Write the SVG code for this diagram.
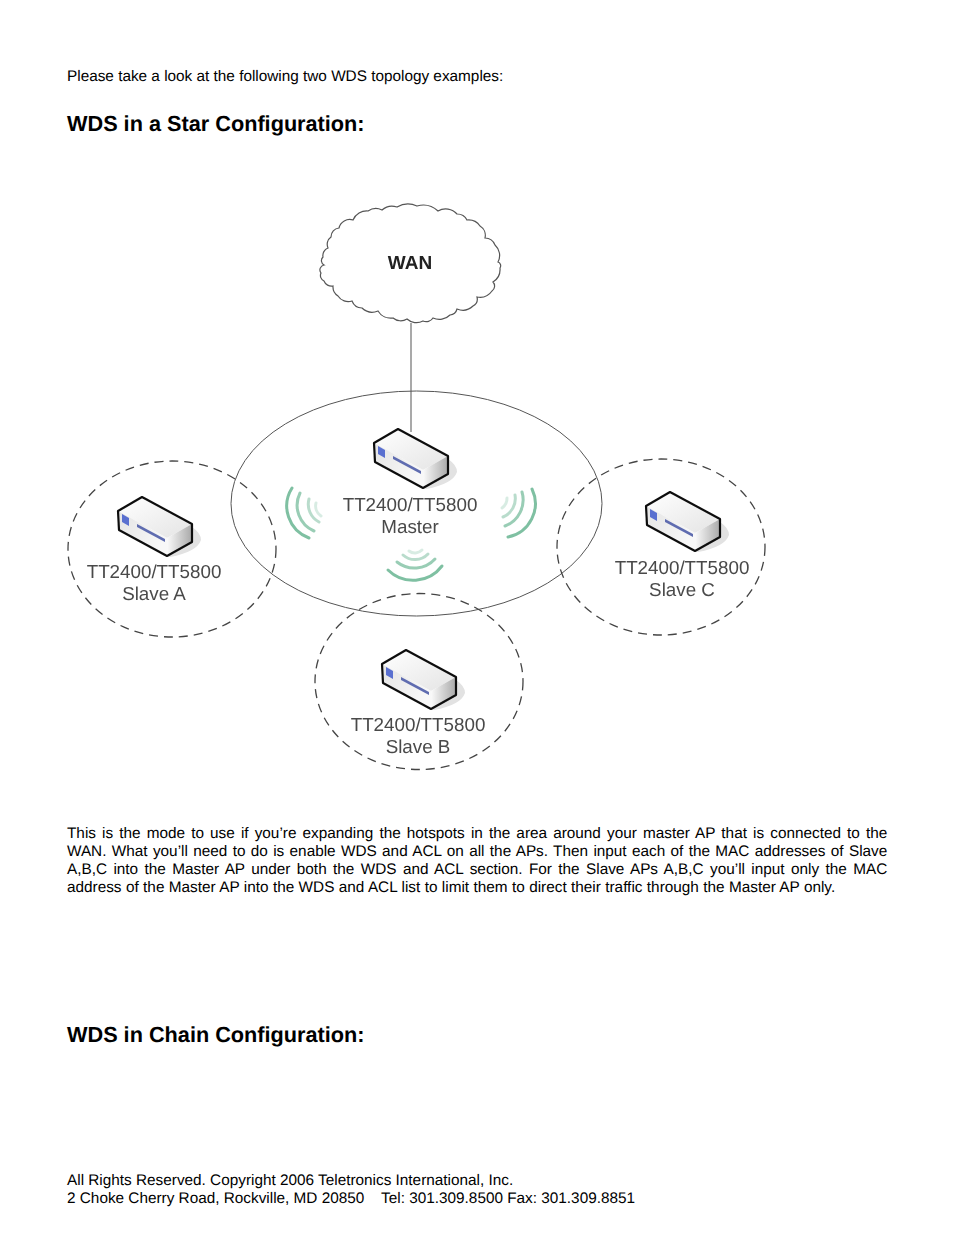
<svg xmlns="http://www.w3.org/2000/svg" width="954" height="1235" viewBox="0 0 954 1235">
<style>
text{text-rendering:geometricPrecision}
.b{font:15.33px "Liberation Sans",Arial,sans-serif;fill:#000}
.h{font:bold 21.7px "Liberation Sans",Arial,sans-serif;fill:#000}
.l{font:18.8px "Liberation Sans",Arial,sans-serif;fill:#4a4a4a;text-anchor:middle}
.o{fill:none;stroke:#555;stroke-width:1}
.d{fill:none;stroke:#444;stroke-width:1.3;stroke-dasharray:9 6}
.w{fill:none;stroke:#7fc0a2;stroke-width:3;stroke-linecap:round}
</style>
<defs>
<linearGradient id="top" x1="0" y1="0" x2="1" y2="1"><stop offset="0" stop-color="#fff"/><stop offset="1" stop-color="#e4e4e4"/></linearGradient>
<linearGradient id="front" x1="0" y1="0" x2="1" y2="0.6"><stop offset="0" stop-color="#e4e4e4"/><stop offset="1" stop-color="#f8f8f8"/></linearGradient>
<linearGradient id="side" x1="0" y1="0" x2="1" y2="0"><stop offset="0" stop-color="#fafafa"/><stop offset="1" stop-color="#a8a8a8"/></linearGradient>
<filter id="s" x="-5%" y="-5%" width="110%" height="110%"><feGaussianBlur stdDeviation="0.5"/></filter>
<g id="dev">
<path d="M49 59 L74 45 L74 30 Q83 36 83 43 Q79 55 52 60Z" fill="#e2e2e2"/>
<path d="M0 14 L24 0 L74 27 L49 41Z" fill="url(#top)"/>
<path d="M0 14 L49 41 L49 59 L1 33Z" fill="url(#front)"/>
<path d="M49 41 L74 27 L74 45 L49 59Z" fill="url(#side)"/>
<path d="M0 14 L24 0 L74 27 L74 45 L49 59 L1 33Z" fill="none" stroke="#111" stroke-width="2.200" stroke-linejoin="round"/>
<path d="M4 17 L11 21 L11 29 L4 25Z" fill="#5a6fd0"/>
<path d="M19 27 L47 42 L47 45 L19 30Z" fill="#5f6cb0"/>
</g>
</defs>
<text class="b" x="67" y="81">Please take a look at the following two WDS topology examples:</text>
<text class="h" x="67" y="131">WDS in a Star Configuration:</text>
<g filter="url(#s)">
<g id="connectors"><path class="o" d="M411 323V432"/></g>
<g id="wan">
<path fill="#fff" stroke="#555" stroke-width="1.2" d="M353 220A15 15 0 0 1 368 211A14 14 0 0 1 382 210A15 15 0 0 1 397 207A22 22 0 0 1 417 206A22 22 0 0 1 438 211A15 15 0 0 1 457 214A11 11 0 0 1 467 220A14 14 0 0 1 480 226A11 11 0 0 1 485 238A11 11 0 0 1 495 245A14 14 0 0 1 498 262A4 4 0 0 1 500 268A15 15 0 0 1 493 282A6 6 0 0 1 492 291A15 15 0 0 1 477 297A8 8 0 0 1 473 306A15 15 0 0 1 457 309A8 8 0 0 1 450 315A15 15 0 0 1 433 318A8 8 0 0 1 423 321A14 14 0 0 1 407 319A12 12 0 0 1 393 318A15 15 0 0 1 378 311A15 15 0 0 1 362 308A11 11 0 0 1 352 301A12 12 0 0 1 338 296A11 11 0 0 1 333 286A8 8 0 0 1 324 281A6 6 0 0 1 321 273A5 5 0 0 1 324 265A5 5 0 0 1 323 257A8 8 0 0 1 328 248A9 9 0 0 1 331 237A9 9 0 0 1 339 228A11 11 0 0 1 353 220Z"/>
<text x="410" y="268.500" style="font:bold 19px 'Liberation Sans',Arial,sans-serif;fill:#222;text-anchor:middle">WAN</text>
</g>
<g id="master">
<ellipse class="o" cx="416.500" cy="503.500" rx="185.500" ry="112.500"/>
<path class="w" d="M292 488A34 34 0 0 0 309 538"/>
<path class="w" d="M300 493A28 28 0 0 0 314 531" opacity=".8"/>
<path class="w" d="M309 499A20 20 0 0 0 319 522" opacity=".55"/>
<path class="w" d="M316 503A12 12 0 0 0 321 516" opacity=".3"/>
<path class="w" d="M532 489A34 34 0 0 1 508 537"/>
<path class="w" d="M522 492A28 28 0 0 1 505 526" opacity=".8"/>
<path class="w" d="M515 495A20 20 0 0 1 503 517" opacity=".55"/>
<path class="w" d="M507 498A12 12 0 0 1 502 508" opacity=".3"/>
<path class="w" d="M388 570A36 36 0 0 0 442 566"/>
<path class="w" d="M397 562A28 28 0 0 0 435 559" opacity=".8"/>
<path class="w" d="M403 555A18 18 0 0 0 428 554" opacity=".55"/>
<path class="w" d="M409 551A10 10 0 0 0 422 550" opacity=".3"/>
<use href="#dev" x="374" y="429"/>
<text class="l" x="410" y="511">TT2400/TT5800</text>
<text class="l" x="410" y="533">Master</text>
</g>
<g id="slave-a">
<ellipse class="d" cx="172" cy="549" rx="104" ry="88"/>
<use href="#dev" x="118" y="497"/>
<text class="l" x="154" y="578">TT2400/TT5800</text>
<text class="l" x="154" y="600">Slave A</text>
</g>
<g id="slave-c">
<ellipse class="d" cx="661" cy="547" rx="104" ry="88"/>
<use href="#dev" x="646" y="492"/>
<text class="l" x="682" y="574">TT2400/TT5800</text>
<text class="l" x="682" y="596">Slave C</text>
</g>
<g id="slave-b">
<ellipse class="d" cx="419" cy="681.500" rx="104" ry="88"/>
<use href="#dev" x="382" y="650"/>
<text class="l" x="418" y="731">TT2400/TT5800</text>
<text class="l" x="418" y="753">Slave B</text>
</g>
</g>
<text class="b" x="67" y="838" style="word-spacing:1.86px">This is the mode to use if you’re expanding the hotspots in the area around your master AP that is connected to the</text>
<text class="b" x="67" y="856" style="word-spacing:1.09px">WAN. What you’ll need to do is enable WDS and ACL on all the APs. Then input each of the MAC addresses of Slave</text>
<text class="b" x="67" y="874" style="word-spacing:2.14px">A,B,C into the Master AP under both the WDS and ACL section. For the Slave APs A,B,C you’ll input only the MAC</text>
<text class="b" x="67" y="892" style="word-spacing:.14px">address of the Master AP into the WDS and ACL list to limit them to direct their traffic through the Master AP only.</text>
<text class="h" x="67" y="1042">WDS in Chain Configuration:</text>
<text class="b" x="67" y="1185">All Rights Reserved. Copyright 2006 Teletronics International, Inc.</text>
<text class="b" x="67" y="1203" xml:space="preserve">2 Choke Cherry Road, Rockville, MD 20850    Tel: 301.309.8500 Fax: 301.309.8851</text>
</svg>
